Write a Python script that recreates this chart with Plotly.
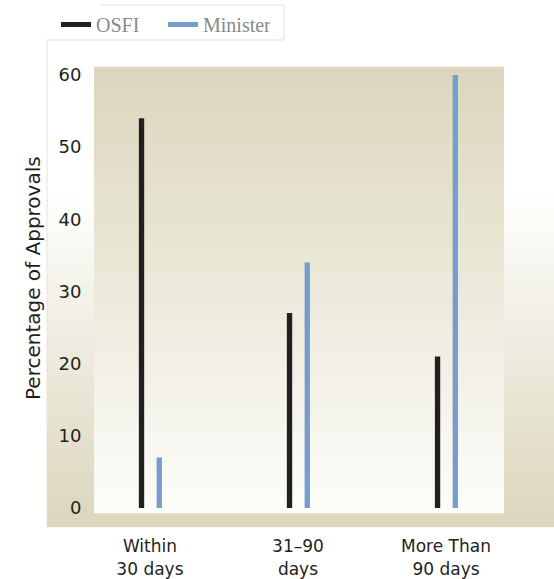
import plotly.graph_objects as go

# Approval timing data (percent of approvals)
categories = ["Within<br>30 days", "31–90<br>days", "More Than<br>90 days"]
osfi = [54, 27, 21]
minister = [7, 34, 60]
y_ticks = [0, 10, 20, 30, 40, 50, 60]

W, H = 554, 579
L, R, T, B = 94, 504, 67, 513  # plot area in pixels
TAN = (219, 214, 188)
WHITE = (255, 255, 255)


def px_x(p):
    return (p - L) / (R - L)


def px_y(p):
    return (B - p) / (B - T)


def mix(c1, c2, t):
    return "rgb(%d,%d,%d)" % tuple(round(a + (b - a) * t) for a, b in zip(c1, c2))


shapes = []


def vgrad(x0, x1, y0, y1, c_top, c_bot, n=48, t_start=0.0):
    """Vertical gradient made of thin bands (pixel coordinates)."""
    h = (y1 - y0) / n
    for i in range(n):
        t = (i + 0.5) / n
        t = 0 if t < t_start else (t - t_start) / (1 - t_start)
        shapes.append(dict(type="rect", xref="paper", yref="paper", layer="below",
                           x0=px_x(x0), x1=px_x(x1),
                           y0=px_y(y0 + i * h - 0.3), y1=px_y(y0 + (i + 1) * h + 0.3),
                           fillcolor=mix(c_top, c_bot, t), line_width=0))


# outer frame: white at top fading to tan at the bottom
vgrad(47, 554, 40, 527, WHITE, TAN, n=60, t_start=0.3)
# plot area: tan at top fading to white
vgrad(L, R, T, B, TAN, (253, 253, 250), n=60)

# faint frame lines
frame = "rgb(232,228,208)"
for (x0, y0, x1, y1) in [(47, 40, 47, 527), (47, 40, 284, 40),
                         (100, 5, 284, 5), (284, 5, 284, 40)]:
    shapes.append(dict(type="line", xref="paper", yref="paper", layer="below",
                       x0=px_x(x0), x1=px_x(x1), y0=px_y(y0), y1=px_y(y1),
                       line=dict(color=frame, width=1)))

xpos = list(range(len(categories)))
BLACK = "#231f20"
BLUE = "#769dcb"

fig = go.Figure()
fig.add_trace(go.Bar(x=xpos, y=osfi, name="OSFI", marker=dict(color=BLACK, line_width=0),
                     width=0.036, offset=-0.075, showlegend=False))
fig.add_trace(go.Bar(x=xpos, y=minister, name="Minister", marker=dict(color=BLUE, line_width=0),
                     width=0.036, offset=0.045, showlegend=False))
# legend entries drawn as short thick lines
fig.add_trace(go.Scatter(x=[None], y=[None], mode="lines", name="OSFI",
                         line=dict(color=BLACK, width=5)))
fig.add_trace(go.Scatter(x=[None], y=[None], mode="lines", name="Minister",
                         line=dict(color=BLUE, width=5)))

SANS = "DejaVu Sans"
INK = "#231f20"

fig.update_layout(
    width=W, height=H,
    margin=dict(l=L, r=W - R, t=T, b=H - B, pad=0),
    paper_bgcolor="white", plot_bgcolor="rgba(0,0,0,0)",
    shapes=shapes,
    showlegend=True,
    legend=dict(orientation="h", xref="container", yref="container",
                x=56 / W, xanchor="left", y=1 - 5 / H, yanchor="top",
                bgcolor="rgba(0,0,0,0)", borderwidth=0, entrywidth=62,
                font=dict(family="Liberation Serif", size=20, color="#8a8a8a"),
                itemclick=False),
    xaxis=dict(range=[-0.378, 2.392], tickvals=xpos, ticktext=categories,
               showgrid=False, zeroline=False, showline=False, automargin=False,
               ticks="outside", ticklen=18, tickcolor="rgba(0,0,0,0)",
               tickfont=dict(family=SANS, size=17, color=INK), fixedrange=True),
    yaxis=dict(range=[-0.7, 61.1], tickvals=y_ticks, automargin=False,
               showgrid=False, zeroline=False, showline=False,
               ticks="outside", ticklen=8, tickcolor="rgba(0,0,0,0)",
               tickfont=dict(family=SANS, size=18, color=INK), fixedrange=True),
    annotations=[dict(text="Percentage of Approvals", xref="paper", yref="paper",
                      x=px_x(33), y=px_y(278), textangle=-90, showarrow=False,
                      xanchor="center", yanchor="middle",
                      font=dict(family=SANS, size=20, color=INK))],
)

fig.write_html("out.html")
